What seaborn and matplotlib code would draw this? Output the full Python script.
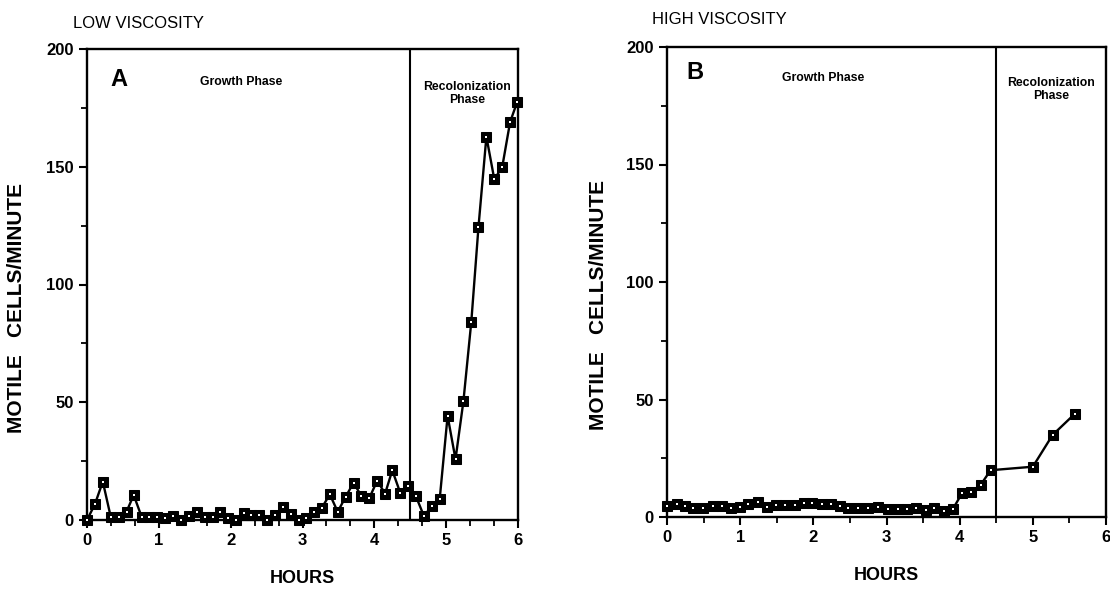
import matplotlib
matplotlib.use("Agg")
import matplotlib.pyplot as plt
from matplotlib.ticker import MultipleLocator
import seaborn as sns
import pandas as pd

# ---------------- data ----------------
hours_a = [0, 0.11, 0.22, 0.33, 0.44, 0.55, 0.65, 0.76, 0.87, 0.98, 1.09, 1.2, 1.31, 1.42,
           1.53, 1.64, 1.75, 1.85, 1.96, 2.07, 2.18, 2.29, 2.4, 2.51, 2.62, 2.73, 2.84, 2.95,
           3.05, 3.16, 3.27, 3.38, 3.49, 3.6, 3.71, 3.82, 3.93, 4.04, 4.15, 4.25, 4.36, 4.47,
           4.58, 4.69, 4.8, 4.91, 5.02, 5.13, 5.24, 5.35, 5.45, 5.56, 5.67, 5.78, 5.89, 5.99]
cells_a = [0, 6.7, 16.3, 1.4, 1.4, 3.5, 10.6, 1.4, 1.4, 1.4, 1, 1.7, 0, 1.7, 3.5, 1.4, 1.4,
           3.5, 0.7, 0, 2.8, 2.1, 2.1, 0, 2.1, 5.5, 2.4, 0, 1, 3.5, 5.2, 10.9, 3.5, 9.8, 15.8,
           10.2, 9.3, 16.7, 11.2, 21.1, 11.6, 14.3, 10, 1.7, 5.9, 8.9, 44.2, 25.8, 50.4, 84.2,
           124.5, 162.8, 144.7, 149.8, 169, 177.6]

hours_b = [0, 0.136, 0.249, 0.362, 0.498, 0.634, 0.748, 0.871, 0.997, 1.11, 1.238, 1.369,
           1.487, 1.61, 1.745, 1.868, 1.986, 2.117, 2.245, 2.358, 2.48, 2.616, 2.743, 2.889,
           3.015, 3.151, 3.274, 3.401, 3.537, 3.65, 3.786, 3.909, 4.036, 4.158, 4.286, 4.422,
           5.0, 5.27, 5.57]
cells_b = [4.7, 5.4, 4.7, 3.7, 3.7, 4.7, 4.7, 3.7, 4.4, 5.4, 6.4, 4.3, 5.1, 4.9, 4.9, 5.8,
           5.8, 5.4, 5.7, 4.7, 4.0, 3.7, 3.7, 4.4, 3.5, 3.5, 3.5, 3.7, 2.8, 4.0, 2.6, 3.5,
           10.3, 10.8, 13.6, 19.9, 21.4, 34.9, 43.8]

panel_titles = ["LOW VISCOSITY", "HIGH VISCOSITY"]
panel_letters = ["A", "B"]
phase_labels = ["Growth Phase", "Recolonization\nPhase"]
x_ticks = [0, 1, 2, 3, 4, 5, 6]
y_ticks = [0, 50, 100, 150, 200]
phase_boundary = 4.5

# ---------------- style ----------------
sns.set_style("ticks")
plt.rcParams["font.family"] = ["Liberation Sans", "DejaVu Sans"]
plt.rcParams["text.color"] = "black"
plt.rcParams["axes.labelcolor"] = "black"
plt.rcParams["xtick.color"] = "black"
plt.rcParams["ytick.color"] = "black"

fig = plt.figure(figsize=(11.1, 6.12), dpi=100)
ax_a = fig.add_axes([87 / 1110, 1 - 520 / 612, 431 / 1110, 471 / 612])
ax_b = fig.add_axes([667 / 1110, 1 - 517 / 612, 439 / 1110, 470 / 612])

panels = [
    (ax_a, pd.DataFrame({"h": hours_a, "c": cells_a}), 1 / 3, (0.45, 187), (2.15, 186), (5.29, 181), -0.142),
    (ax_b, pd.DataFrame({"h": hours_b, "c": cells_b}), 0.5, (0.38, 189), (2.13, 187), (5.25, 182), -0.134),
]

for i, (ax, df, minor_x, letter_pos, grow_pos, rec_pos, ylab_x) in enumerate(panels):
    sns.lineplot(data=df, x="h", y="c", ax=ax, color="black", linewidth=1.7,
                 marker="s", markersize=6.8, markerfacecolor="black",
                 markeredgecolor="black", clip_on=False, zorder=3)
    sns.scatterplot(data=df, x="h", y="c", ax=ax, color="white", marker="s",
                    s=2.5, linewidth=0, clip_on=False, zorder=4)
    ax.axvline(phase_boundary, color="black", linewidth=1.5, zorder=2)
    ax.set_xlim(0, 6)
    ax.set_ylim(0, 200)
    ax.set_xticks(x_ticks)
    ax.set_yticks(y_ticks)
    ax.xaxis.set_minor_locator(MultipleLocator(minor_x))
    ax.yaxis.set_minor_locator(MultipleLocator(25))
    ax.tick_params(axis="both", which="major", direction="out", length=6, width=1.5,
                   labelsize=12, color="black", labelcolor="black")
    ax.tick_params(axis="both", which="minor", direction="out", length=4, width=1.3,
                   color="black")
    for lab in ax.get_xticklabels() + ax.get_yticklabels():
        lab.set_fontweight("bold")
    for sp in ax.spines.values():
        sp.set_visible(True)
        sp.set_linewidth(1.7)
        sp.set_color("black")
    ax.set_xlabel("HOURS", fontsize=13, fontweight="bold", labelpad=16)
    ax.set_ylabel("MOTILE   CELLS/MINUTE", fontsize=15, fontweight="bold")
    ax.yaxis.set_label_coords(ylab_x, 0.45)
    ax.text(letter_pos[0], letter_pos[1], panel_letters[i], fontsize=17,
            fontweight="bold", ha="center", va="center")
    ax.text(grow_pos[0], grow_pos[1], phase_labels[0], fontsize=8.8,
            fontweight="semibold", ha="center", va="center")
    ax.text(rec_pos[0], rec_pos[1], phase_labels[1], fontsize=8.8,
            fontweight="semibold", ha="center", va="center", linespacing=1.15)
    ax.grid(False)

fig.text(73 / 1110, 1 - 23 / 612, panel_titles[0], fontsize=12, ha="left", va="center")
fig.text(652 / 1110, 1 - 19 / 612, panel_titles[1], fontsize=12, ha="left", va="center")

fig.savefig("out.png", dpi=100)
